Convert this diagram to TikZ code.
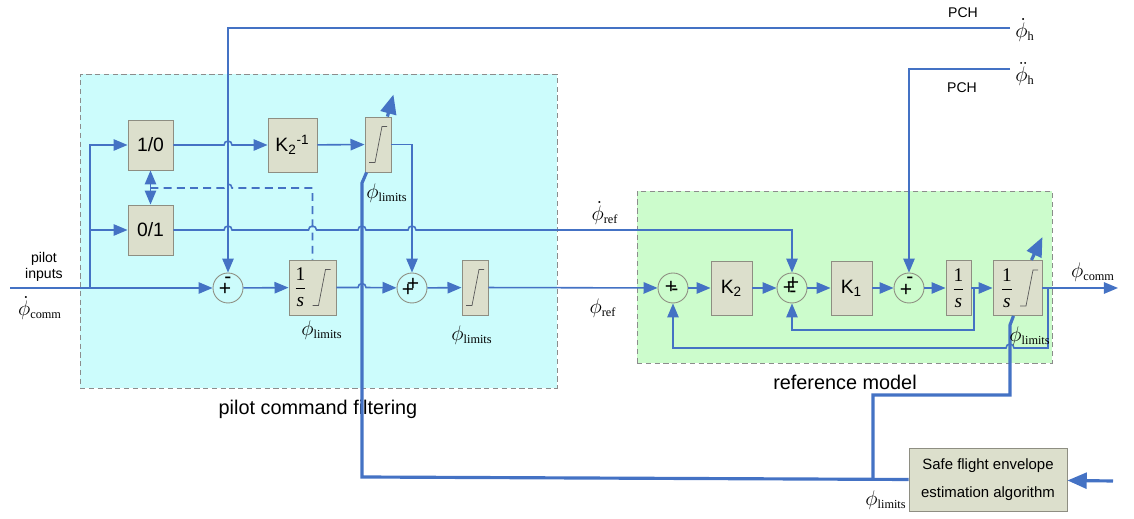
\documentclass[tikz,border=0pt]{standalone}
\usepackage{amsmath}
\usepackage{fontspec}
\setmainfont{Liberation Sans}
\newfontfamily\tms{Liberation Serif}
\usetikzlibrary{calc, arrows.meta}
\definecolor{sigblue}{HTML}{4472C4}
\definecolor{blkfill}{HTML}{DCDFCC}
\definecolor{blkdraw}{HTML}{8E8E82}
\definecolor{filtcyan}{HTML}{CCFCFC}
\definecolor{refgreen}{HTML}{CCFCCC}
\definecolor{framegray}{HTML}{8C8C8C}
\newcommand{\lbsub}[1]{\text{\fontsize{7}{8}\selectfont\tms #1}}
\newcommand{\philim}{$\phi_{\lbsub{limits}}$}
\newcommand{\onefrac}{$\dfrac{\text{\tms 1}}{\text{\tms\itshape s}}$}
% hop of a horizontal line over a vertical one (rightwards / leftwards)
\newcommand{\hop}[1]{-- ($#1+(-4,0)$) arc[start angle=180,end angle=0,radius=0.08cm]}
\newcommand{\hopl}[1]{-- ($#1+(4,0)$) arc[start angle=0,end angle=180,radius=0.08cm]}
\newcommand{\satline}[2]{\draw[satmark] ($(#1)+(#2-9,18)$) -- ++(6,0) -- ++(7,-36) -- ++(5,0);}
\tikzset{
  region/.style={rectangle, draw=framegray, line width=0.5pt, dash pattern=on 3pt off 2pt, inner sep=0pt},
  blockbox/.style={rectangle, fill=blkfill, draw=blkdraw, line width=0.5pt, inner sep=0pt,
                   font=\fontsize{11}{13}\selectfont},
  sumnode/.style={circle, draw=blkdraw, line width=0.5pt, minimum size=0.6cm, inner sep=0pt},
  sgn/.style={font=\fontsize{12}{12}\selectfont, inner sep=0pt},
  fracnode/.style={font=\fontsize{11}{13}\selectfont, inner sep=0pt},
  satmark/.style={line width=0.4pt, draw=black!65},
  flow/.style={-{Triangle[length=8pt,width=6.5pt]}, line width=0.9pt, draw=sigblue},
  flowboth/.style={{Triangle[length=8pt,width=6.5pt]}-{Triangle[length=8pt,width=6.5pt]}, line width=0.9pt, draw=sigblue},
  dashctl/.style={line width=0.9pt, draw=sigblue, dash pattern=on 4.5pt off 3pt},
  lim/.style={line width=1.8pt, draw=sigblue},
  limtip/.style={lim, -{Triangle[length=11pt,width=9pt]}},
  lbl/.style={font=\fontsize{11.3}{13}\selectfont, inner sep=1pt},
  tinylbl/.style={font=\fontsize{8}{9.5}\selectfont, inner sep=1pt},
  mathlbl/.style={font=\fontsize{13}{15}\selectfont, inner sep=1pt},
}
\begin{document}
\begin{tikzpicture}[x=0.02cm, y=-0.02cm]
  \useasboundingbox (0,0) rectangle (1134,519);

  % --- the two regions
  \node[region, fill=filtcyan, minimum width=9.54cm, minimum height=6.28cm] (filt) at (318.5,231) {};
  \node[region, fill=refgreen, minimum width=8.3cm, minimum height=3.44cm] (refm) at (844.5,277) {};
  \node[lbl] (filtlbl) at (318,409) {pilot command filtering};
  \node[lbl] (refmlbl) at (845,382) {reference model};

  % --- pilot command filtering
  \node[blockbox, minimum width=0.9cm, minimum height=1cm] (sw10) at (150.5,145) {1/0};
  \node[blockbox, minimum width=0.9cm, minimum height=1cm] (sw01) at (150.5,230) {0/1};
  \node[blockbox, minimum width=0.98cm, minimum height=1.08cm] (kinv) at (292.5,145) {K\textsubscript{2}\textsuperscript{-1}};
  \node[blockbox, minimum width=0.52cm, minimum height=1.1cm] (satA) at (378,144.5) {};
  \node[sumnode] (sumA) at (228,288) {};
  \node[blockbox, minimum width=0.94cm, minimum height=1.1cm] (intA) at (312.5,287.5) {};
  \node[sumnode] (sumB) at (412,288) {};
  \node[blockbox, minimum width=0.52cm, minimum height=1.1cm] (satB) at (475,287.5) {};
  \node[fracnode] (intAf) at (300.5,287.5) {\onefrac};
  \satline{satA}{0}
  \satline{satB}{0}
  \satline{intA}{9}

  % --- reference model
  \node[sumnode] (sumC) at (673,288) {};
  \node[blockbox, minimum width=0.82cm, minimum height=1.08cm] (kk2) at (731.5,288) {K\textsubscript{2}};
  \node[sumnode] (sumD) at (792,288) {};
  \node[blockbox, minimum width=0.82cm, minimum height=1.08cm] (kk1) at (851.5,288) {K\textsubscript{1}};
  \node[sumnode] (sumE) at (909,288) {};
  \node[blockbox, minimum width=0.5cm, minimum height=1.1cm] (intB) at (958.5,288) {};
  \node[blockbox, minimum width=0.98cm, minimum height=1.1cm] (intC) at (1017.5,288) {};
  \node[fracnode] (intBf) at (958.5,288) {\onefrac};
  \node[fracnode] (intCf) at (1007,288) {\onefrac};
  \satline{intC}{11.5}

  \node[blockbox, font=\fontsize{8.5}{16}\selectfont, align=center, minimum width=3.16cm, minimum height=1.26cm] (sfe) at (988,479.5) {Safe flight envelope\\estimation algorithm};

  % --- signs in the summing points
  \node[sgn] (sAm) at ($(sumA)+(0,-8)$) {-};
  \node[sgn] (sAp) at ($(sumA)+(-3,1)$) {+};
  \node[sgn] (sBp1) at ($(sumB)+(1,-4)$) {+};
  \node[sgn] (sBp2) at ($(sumB)+(-4,2)$) {+};
  \node[sgn] (sCp) at ($(sumC)+(-2,-1)$) {+};
  \node[sgn] (sCm) at ($(sumC)+(2,4)$) {-};
  \node[sgn] (sDp1) at ($(sumD)+(1,-5)$) {+};
  \node[sgn] (sDp2) at ($(sumD)+(-3,0)$) {+};
  \node[sgn] (sDm) at ($(sumD)+(1,6)$) {-};
  \node[sgn] (sEm) at ($(sumE)+(1,-8)$) {-};
  \node[sgn] (sEp) at ($(sumE)+(-3,2)$) {+};

  % --- free ends and corners
  \coordinate (in) at (10,288);
  \coordinate (br) at (90,288);
  \coordinate (dsw) at (150.5,188);
  \coordinate (pch1) at (1010,28);
  \coordinate (pch2) at (1010,69);
  \coordinate (fbA) at (974,288);
  \coordinate (fbB) at (1048,288);
  \coordinate (out) at (1118,288);
  \coordinate (tk0) at (362,477);
  \coordinate (tk1) at (362,183);
  \coordinate (tk2) at (873,479);
  \coordinate (tk3) at (1010,395);
  \coordinate (tk4) at (1010,325);
  \coordinate (sfein) at (1113,481);

  % --- signals
  \draw[flow] (in) -- (sumA);
  \draw[flow] (br) |- (sw10.west);
  \draw[flow] (br |- sw01) -- (sw01.west);
  \draw[flowboth] (sw10) -- (sw01);
  \draw[dashctl] (dsw) \hop{(sumA |- dsw)} -| (intA);
  \draw[flow] (sw10) \hop{(sumA |- sw10)} -- (kinv);
  \draw[flow] (kinv) -- (satA);
  \draw[flow] (satA) -| (sumB);
  \draw[flow] (sw01) \hop{(sumA |- sw01)} \hop{(intA |- sw01)} \hop{(tk1 |- sw01)} \hop{(sumB |- sw01)} -| (sumD);
  \draw[flow] (pch1) -| (sumA);
  \draw[flow] (sumA) -- (intA);
  \draw[flow] (intA) \hop{(tk1 |- intA)} -- (sumB);
  \draw[flow] (sumB) -- (satB);
  \draw[flow] (satB) -- (sumC);
  \draw[flow] (sumC) -- (kk2);
  \draw[flow] (kk2) -- (sumD);
  \draw[flow] (sumD) -- (kk1);
  \draw[flow] (kk1) -- (sumE);
  \draw[flow] (sumE) -- (intB);
  \draw[flow] (intB) -- (intC);
  \draw[flow] (intC) -- (out);
  \draw[flow] (pch2) -| (sumE);
  \draw[flow] (fbA) -- ++(0,42) -| (sumD);
  \draw[flow] (fbB) -- ++(0,60) \hopl{(tk4 |- 0,348)} -| (sumC);

  % --- limits from the envelope estimation
  \draw[lim] (sfe.west) -- (tk0) -- (tk1) -- ($(satA.south west)+(2,0)$);
  \draw[lim] (tk2) |- (tk3) -- (tk4) -- ($(intC.south)+(-4,0)$);
  \draw[limtip] ($(satA.north east)+(-4,0)$) -- ++(6,-22);
  \draw[limtip] ($(intC.north east)+(-11,0)$) -- ++(11,-23);
  \draw[limtip] (sfein) -- (sfe);

  % --- labels
  \node[tinylbl, align=center] (pin) at (44,267) {pilot\\inputs};
  \node[mathlbl] (lcomm) at (40,308) {$\dot{\phi}_{\lbsub{comm}}$};
  \node[tinylbl] (pch1l) at (963,13) {PCH};
  \node[mathlbl] (lh1) at (1025,30) {$\dot{\phi}_{\lbsub{h}}$};
  \node[tinylbl] (pch2l) at (962,88) {PCH};
  \node[mathlbl] (lh2) at (1025,74) {$\ddot{\phi}_{\lbsub{h}}$};
  \node[mathlbl] (lrefd) at (605,213) {$\dot{\phi}_{\lbsub{ref}}$};
  \node[mathlbl] (lref) at (603,308) {$\phi_{\lbsub{ref}}$};
  \node[mathlbl] (lcmd) at (1093,272) {$\phi_{\lbsub{comm}}$};
  \node[mathlbl] (limA) at (387,193) {\philim};
  \node[mathlbl] (limB) at (322,330) {\philim};
  \node[mathlbl] (limC) at (472,335) {\philim};
  \node[mathlbl] (limD) at (1030,336) {\philim};
  \node[mathlbl] (limE) at (886,500) {\philim};
\end{tikzpicture}
\end{document}
